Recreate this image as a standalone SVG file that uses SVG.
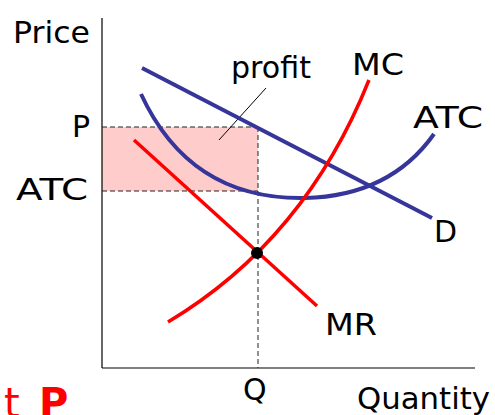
<svg xmlns="http://www.w3.org/2000/svg" width="495" height="415" viewBox="0 0 495 415">
<style>
text{font-family:"DejaVu Sans","Liberation Sans",sans-serif;font-size:30px;fill:#000}
.dash{stroke:#222;stroke-width:1;stroke-dasharray:5,3;fill:none}
.blue{stroke:#35359a;stroke-width:4;fill:none}
.red{stroke:#ff0000;stroke-width:3.5;fill:none}
</style>
<rect width="495" height="415" fill="#fff"/>
<g id="profit-area">
<rect x="102" y="127" width="156" height="64" fill="#ffcccc"/>
</g>
<g id="axes">
<line x1="102" y1="18" x2="102" y2="368" stroke="#000" stroke-width="1.2"/>
<line x1="102" y1="368" x2="475" y2="368" stroke="#000" stroke-width="1.2"/>
</g>
<g id="connectors">
<line class="dash" x1="102" y1="127" x2="258" y2="127"/>
<line class="dash" x1="102" y1="191" x2="258" y2="191"/>
<line class="dash" x1="258" y1="127" x2="258" y2="368"/>
<line x1="266" y1="88" x2="219" y2="140" stroke="#000" stroke-width="1"/>
</g>
<g id="D"><line class="blue" x1="142" y1="68" x2="432" y2="218"/></g>
<g id="ATC"><path class="blue" d="M141,94 Q190,200 305,198 Q390,196 434,134"/></g>
<g id="MR"><line class="red" x1="134" y1="140" x2="317" y2="306"/></g>
<g id="MC"><path class="red" d="M168,322 Q305,240 369,80"/></g>
<g id="equilibrium"><circle cx="257" cy="253" r="6" fill="#000"/></g>
<g id="labels">
<text x="13" y="43" textLength="77" lengthAdjust="spacingAndGlyphs">Price</text>
<text x="72" y="137">P</text>
<text x="16" y="200" textLength="72" lengthAdjust="spacingAndGlyphs">ATC</text>
<text x="231" y="78" textLength="80" lengthAdjust="spacingAndGlyphs">profit</text>
<text x="352" y="75" textLength="52" lengthAdjust="spacingAndGlyphs">MC</text>
<text x="413" y="128" textLength="70" lengthAdjust="spacingAndGlyphs">ATC</text>
<text x="434" y="242">D</text>
<text x="325" y="335" textLength="52" lengthAdjust="spacingAndGlyphs">MR</text>
<text x="243" y="400">Q</text>
<text x="357" y="409" textLength="133" lengthAdjust="spacingAndGlyphs">Quantity</text>
<text y="417" style="font-size:40px;fill:#ff0000"><tspan x="4">t</tspan><tspan x="39" style="font-weight:bold">P</tspan></text>
</g>
</svg>
